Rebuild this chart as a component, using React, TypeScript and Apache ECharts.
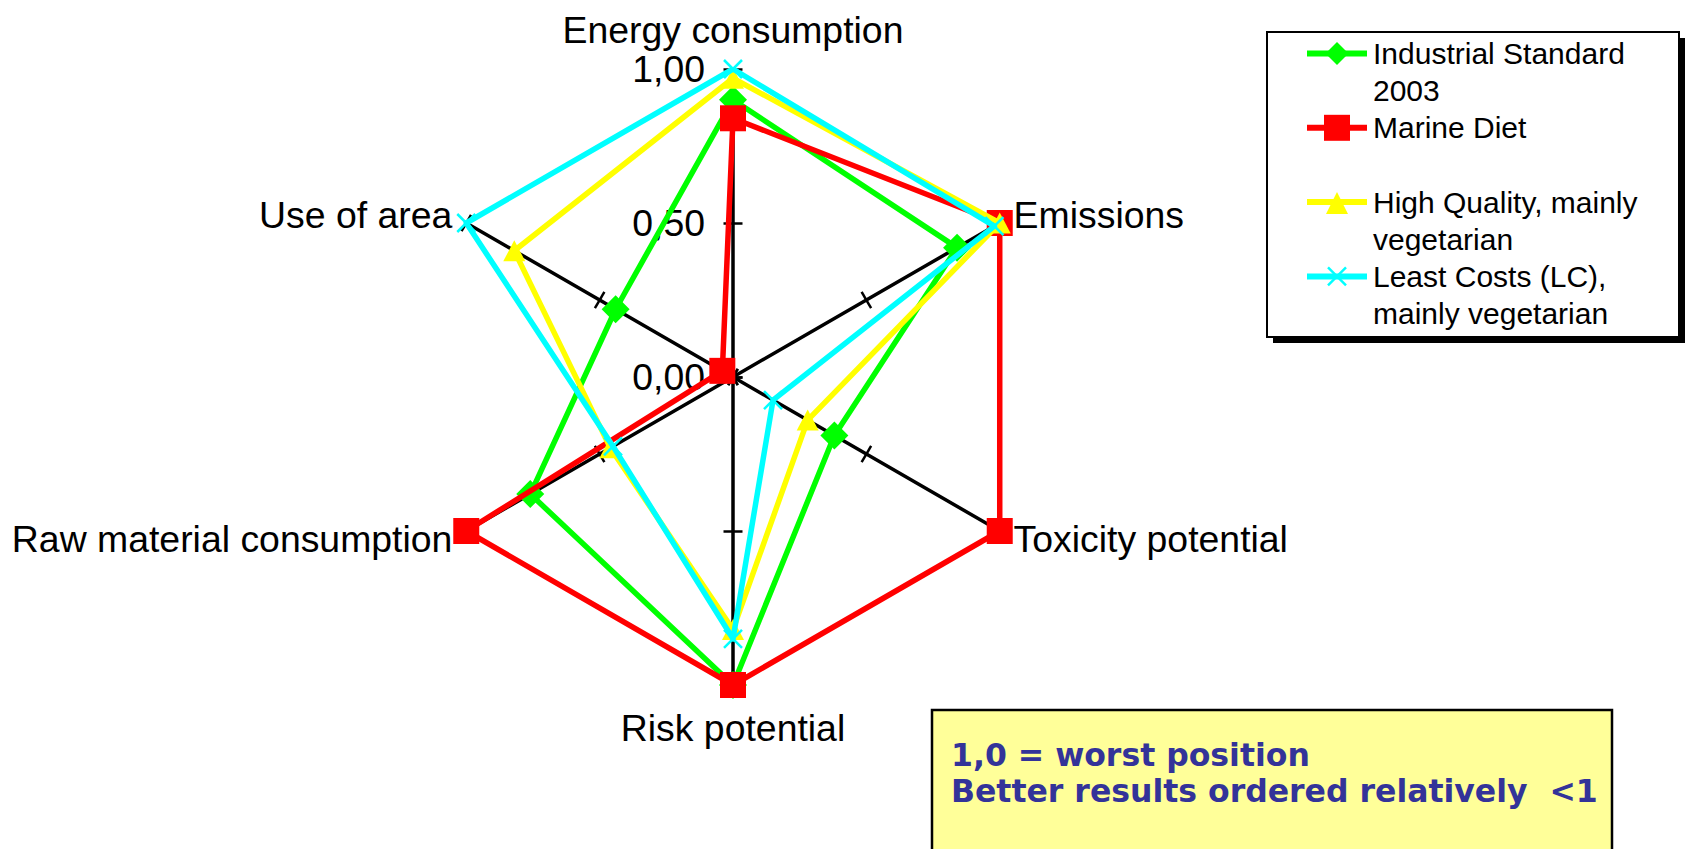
import React, { useEffect, useRef } from "react";
import * as echarts from "echarts";

// Axes in clockwise reading order, starting at the top
const CATEGORIES = [
  "Energy consumption",
  "Emissions",
  "Toxicity potential",
  "Risk potential",
  "Raw material consumption",
  "Use of area",
];

// Values in the same clockwise order
const INDUSTRIAL_2003 = [0.9, 0.84, 0.38, 1.0, 0.76, 0.44];
const MARINE_DIET = [0.84, 1.0, 1.0, 1.0, 1.0, 0.04];
const HIGH_QUALITY = [0.97, 1.0, 0.28, 0.82, 0.46, 0.82];
const LEAST_COSTS = [1.0, 0.98, 0.15, 0.85, 0.45, 1.0];

const SERIES_NAMES = [
  "Industrial Standard 2003",
  "Marine Diet",
  "High Quality, mainly vegetarian",
  "Least Costs (LC), mainly vegetarian",
];
const LEGEND_LABELS = [
  "Industrial Standard\n2003",
  "Marine Diet",
  "High Quality, mainly\nvegetarian",
  "Least Costs (LC),\nmainly vegetarian",
];
const AXIS_MIN = 0;
const AXIS_MAX = 1;
const AXIS_SPLITS = 2;
const NOTE_LINES = ["1,0 = worst position", "Better results ordered relatively  <1"];

const COLORS = ["#00FF00", "#FF0000", "#FFFF00", "#00FFFF"];
const SYMBOLS = ["diamond", "rect", "triangle", "path://M0,0L20,20M20,0L0,20"];
const SYMBOL_SIZES: any[] = [28, 26, [22, 21], 18];
const MARKER_KINDS = ["diamond", "square", "triangle", "cross"];

// ECharts places radar indicators counter-clockwise; reorder the clockwise lists
const toRadarOrder = (arr: any[]) => [arr[0], ...arr.slice(1).reverse()];

const FONT = "Liberation Sans";
const CENTER = [733, 377];
const RADIUS = 308;

function legendMarker(kind: string, cx: number, cy: number, color: string) {
  if (kind === "diamond") {
    return {
      type: "polygon",
      shape: { points: [[cx, cy - 11.5], [cx + 11.5, cy], [cx, cy + 11.5], [cx - 11.5, cy]] },
      style: { fill: color },
    };
  }
  if (kind === "square") {
    return { type: "rect", shape: { x: cx - 13, y: cy - 13, width: 26, height: 26 }, style: { fill: color } };
  }
  if (kind === "triangle") {
    return {
      type: "polygon",
      shape: { points: [[cx, cy - 10], [cx + 11, cy + 12], [cx - 11, cy + 12]] },
      style: { fill: color },
    };
  }
  return {
    type: "group",
    children: [
      { type: "line", shape: { x1: cx - 9, y1: cy - 9, x2: cx + 9, y2: cy + 9 }, style: { stroke: color, lineWidth: 2.5 } },
      { type: "line", shape: { x1: cx - 9, y1: cy + 9, x2: cx + 9, y2: cy - 9 }, style: { stroke: color, lineWidth: 2.5 } },
    ],
  };
}

export default function App() {
  const ref = useRef<HTMLDivElement>(null);

  useEffect(() => {
    if (!ref.current) return;
    const chart = echarts.init(ref.current, null, { renderer: "svg" });

    const indicator = toRadarOrder(CATEGORIES).map((name) => ({ name, min: AXIS_MIN, max: AXIS_MAX }));
    const seriesValues = [INDUSTRIAL_2003, MARINE_DIET, HIGH_QUALITY, LEAST_COSTS];

    const baseRadar = {
      center: CENTER,
      radius: RADIUS,
      startAngle: 90,
      splitNumber: AXIS_SPLITS,
      shape: "polygon",
      splitLine: { show: false },
      splitArea: { show: false },
    };

    const legendX = 1267;
    const legendY = 32;
    const legendW = 412;
    const legendH = 305;
    const itemY0 = 53.5;
    const itemStep = 74.3;

    const legendItems: any[] = [];
    SERIES_NAMES.forEach((_, i) => {
      const cy = itemY0 + i * itemStep;
      legendItems.push({
        type: "line",
        shape: { x1: 1307, y1: cy, x2: 1367, y2: cy },
        style: { stroke: COLORS[i], lineWidth: 6 },
      });
      legendItems.push(legendMarker(MARKER_KINDS[i], 1337, cy, COLORS[i]));
      legendItems.push({
        type: "text",
        x: 1373,
        y: cy - 18.5,
        style: {
          text: LEGEND_LABELS[i],
          fontSize: 30,
          fontFamily: FONT,
          lineHeight: 37,
          fill: "#000",
          align: "left",
          verticalAlign: "top",
        },
      });
    });

    const option: any = {
      animation: false,
      backgroundColor: "#fff",
      textStyle: { fontFamily: FONT },
      radar: [
        {
          ...baseRadar,
          indicator,
          nameGap: 16,
          axisName: { color: "#000", fontSize: 37.4, fontFamily: FONT, padding: [8, 0, 5, 0] },
          axisLine: { show: true, lineStyle: { color: "#000", width: 3.5 } },
          axisTick: { show: true, length: 9.5, lineStyle: { color: "#000", width: 2.5 } },
          axisLabel: { show: false },
        },
        {
          ...baseRadar,
          indicator: indicator.map((d) => ({ ...d })),
          axisName: { show: false },
          axisLine: { show: false },
          axisTick: { show: true, length: -9.5, lineStyle: { color: "#000", width: 2.5 } },
          axisLabel: { show: false },
        },
        {
          ...baseRadar,
          indicator: [{ name: "", min: AXIS_MIN, max: AXIS_MAX }],
          axisName: { show: false },
          axisLine: { show: false },
          axisTick: { show: false },
          axisLabel: {
            show: true,
            color: "#000",
            fontSize: 37.4,
            fontFamily: FONT,
            margin: 28,
            formatter: (v: number) => v.toFixed(2).replace(".", ","),
          },
        },
      ],
      series: seriesValues.map((vals, i) => ({
        type: "radar",
        radarIndex: 0,
        name: SERIES_NAMES[i],
        silent: true,
        symbol: SYMBOLS[i],
        symbolSize: SYMBOL_SIZES[i],
        lineStyle: { color: COLORS[i], width: 5.5 },
        itemStyle:
          i === 3
            ? { color: COLORS[i], borderColor: COLORS[i], borderWidth: 2.5 }
            : { color: COLORS[i], borderWidth: 0 },
        emphasis: { disabled: true },
        z: 2 + i,
        data: [{ name: SERIES_NAMES[i], value: toRadarOrder(vals) }],
      })),
      graphic: [
        {
          type: "rect",
          shape: { x: legendX + 6, y: legendY + 6, width: legendW, height: legendH },
          style: { fill: "#000" },
        },
        {
          type: "rect",
          shape: { x: legendX, y: legendY, width: legendW, height: legendH },
          style: { fill: "#fff", stroke: "#000", lineWidth: 2 },
        },
        ...legendItems,
        {
          type: "rect",
          shape: { x: 932, y: 710, width: 680, height: 170 },
          style: { fill: "#FFFF99", stroke: "#000", lineWidth: 2.5 },
        },
        {
          type: "text",
          x: 951,
          y: 736.25,
          style: {
            text: NOTE_LINES.join("\n"),
            fontSize: 31.5,
            fontWeight: "bold",
            fontFamily: "DejaVu Sans",
            lineHeight: 36.5,
            fill: "#333399",
            align: "left",
            verticalAlign: "top",
          },
        },
      ],
    };

    chart.setOption(option);
    return () => chart.dispose();
  }, []);

  return (
    <div
      ref={ref}
      style={{ position: "absolute", left: 0, top: 0, width: 1689, height: 849 }}
    />
  );
}
